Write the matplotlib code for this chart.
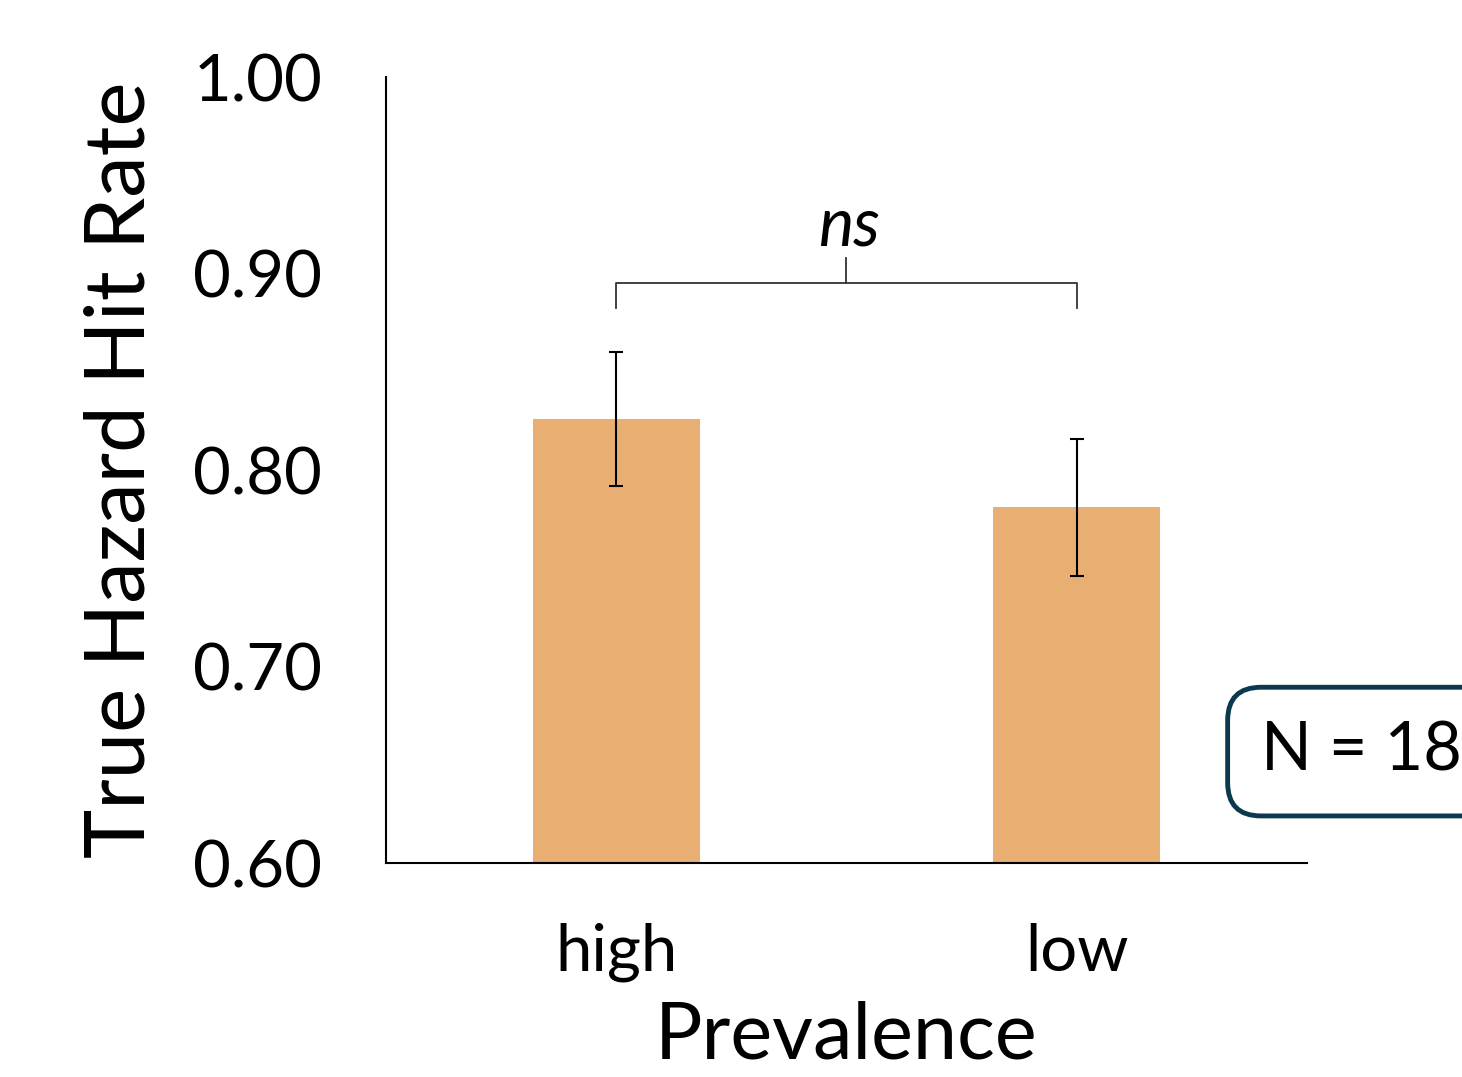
import numpy as np
import matplotlib
matplotlib.use("Agg")
import matplotlib.pyplot as plt

# Data
categories = ["high", "low"]
hit_rate = [0.826, 0.781]
sem = [0.034, 0.035]
n_label = "N = 18"
sig_label = "ns"

bar_color = "#E9AF72"
box_color = "#0B3A4E"

plt.rcParams['font.family'] = ['Lato', 'DejaVu Sans']

fig = plt.figure(figsize=(14.62, 10.77), dpi=100)
ax = fig.add_axes([0.264, 0.1987, 0.63, 0.7298])

x = np.arange(len(categories))
ax.bar(x, [h - 0.6 for h in hit_rate], bottom=0.6, width=0.362, color=bar_color)
ax.errorbar(x, hit_rate, yerr=sem, fmt='none', ecolor='black',
            elinewidth=1.5, capsize=5, capthick=1.5)

ax.set_xlim(-0.5, 1.5)
ax.set_ylim(0.6, 1.0)
ax.set_yticks([0.6, 0.7, 0.8, 0.9, 1.0])
ax.set_yticklabels(["0.60", "0.70", "0.80", "0.90", "1.00"])
ax.set_xticks(x)
ax.set_xticklabels(categories)
ax.tick_params(axis='both', length=0, labelsize=47)
ax.tick_params(axis='y', pad=46)
ax.tick_params(axis='x', pad=43)

for s in ["top", "right"]:
    ax.spines[s].set_visible(False)
ax.spines["left"].set_linewidth(1.5)
ax.spines["bottom"].set_linewidth(1.5)

ax.set_ylabel("True Hazard Hit Rate", fontsize=60, labelpad=24)
ax.set_xlabel("Prevalence", fontsize=57, labelpad=13)

# significance bracket
y_br, y_end, y_top = 0.8952, 0.8824, 0.9079
ax.plot([0, 0, 1, 1], [y_end, y_br, y_br, y_end], color='#333333', lw=1.3,
        clip_on=False)
ax.plot([0.5, 0.5], [y_br, y_top], color='#333333', lw=1.3, clip_on=False)
ax.text(0.505, 0.914, sig_label, style='italic', fontsize=48,
        ha='center', va='baseline')

# sample size box, partly cut off at the right edge
fig.text(0.8625, 0.2845, n_label, fontsize=48, ha='left', va='baseline',
         bbox=dict(boxstyle='round,pad=0.5,rounding_size=0.5', fc='white',
                   ec=box_color, lw=3.5))

fig.savefig("out.png", dpi=100)
